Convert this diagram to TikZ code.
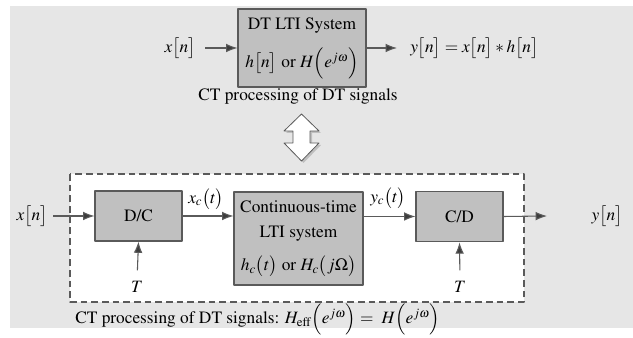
\documentclass[tikz,border=0pt]{standalone}
\usepackage[T1]{fontenc}
\usepackage{mathptmx}
\usepackage{xcolor}
\usetikzlibrary{arrows.meta}
\definecolor{panel}{HTML}{E6E6E6}
\definecolor{boxfill}{HTML}{C0C0C0}
\definecolor{boxline}{HTML}{5A5A5A}
\definecolor{wire}{HTML}{5A5A5A}
\definecolor{tipdk}{HTML}{3C3C3C}
\tikzset{fig/.style={line join=round,x=0.75pt,y=-0.75pt},
  blk/.style={draw=boxline,fill=boxfill,line width=0.8pt,inner sep=0pt,align=center},
  sig/.style={wire,line width=0.8pt,-{Latex[length=8.5pt,width=6.5pt,fill=tipdk]}},
  lbl/.style={inner sep=0pt}}

\begin{document}
\begin{tikzpicture}[fig,font=\fontsize{13}{16}\selectfont]
  \useasboundingbox(0,0)rectangle(633,338);
  \fill[panel](10,6)rectangle(633,328);
  % discrete-time path
  \node[blk,minimum width=96pt,minimum height=58.5pt](dt)at(302,48){DT LTI System\\[10pt]$h\bigl[n\bigr]$ or $H\Bigl(e^{j\omega}\Bigr)$};
  \node[lbl](xtop)at(180,48){$x\bigl[n\bigr]$};
  \node[lbl,anchor=west](ytop)at(410,48){$y\bigl[n\bigr]=x\bigl[n\bigr]*h\bigl[n\bigr]$};
  \coordinate(ytopin)at(397,48);
  \draw[sig,shorten <=7pt](xtop.east)--(dt.west);
  \draw[sig](dt.east)--(ytopin);
  \node[lbl](captop)at(298,97){CT processing of DT signals};
  % hollow double arrow
  \fill[black!25,xshift=1.5pt,yshift=-1.5pt](301.5,114)--(319,131)--(310,131)--(310,143)--(319,143)--(301.5,161)--(284,143)--(293,143)--(293,131)--(284,131)--cycle;
  \draw[boxline,fill=white,line width=0.6pt](301.5,114)--(319,131)--(310,131)--(310,143)--(319,143)--(301.5,161)--(284,143)--(293,143)--(293,131)--(284,131)--cycle;
  % continuous-time path
  \draw[boxline,fill=white,line width=0.8pt,dash pattern=on 5pt off 3pt](70,174)rectangle(524,302);
  \node[blk,minimum width=96.75pt,minimum height=69.75pt](ct)at(298.5,238.5){Continuous-time\\[3pt]LTI system\\[9pt]$h_c\bigl(t\bigr)$ or $H_c\bigl(j\Omega\bigr)$};
  \node[blk,minimum width=65.25pt,minimum height=37.5pt](dc)at(138.5,216){D/C};
  \node[blk,minimum width=65.25pt,minimum height=38pt](cd)at(459.5,216.5){C/D};
  \node[lbl](xbot)at(32,216){$x\bigl[n\bigr]$};
  \node[lbl](ybot)at(607,216){$y\bigl[n\bigr]$};
  \coordinate(ybotin)at(547,216);
  \node[lbl](xc)at(206,199){$x_c\bigl(t\bigr)$};
  \node[lbl](yc)at(388,198){$y_c\bigl(t\bigr)$};
  \node[lbl](tdc)at(137,287){$T$};
  \node[lbl](tcd)at(460,287){$T$};
  \draw[sig,shorten <=4pt](xbot.east)--(dc.west);
  \draw[sig](dc.east)--(ct.west|-dc.east);
  \draw[sig](ct.east|-cd.west)--(cd.west);
  \draw[sig](cd.east)--(ybotin);
  \draw[sig,shorten <=8pt](tdc.north)--(dc.south);
  \draw[sig,shorten <=8pt](tcd.north)--(cd.south);
  \node[lbl,anchor=base west](capbot)at(75,324){CT processing of DT signals: $H_{\mathrm{eff}}\Bigl(e^{j\omega}\Bigr)=\ H\Bigl(e^{j\omega}\Bigr)$};
\end{tikzpicture}
\end{document}
